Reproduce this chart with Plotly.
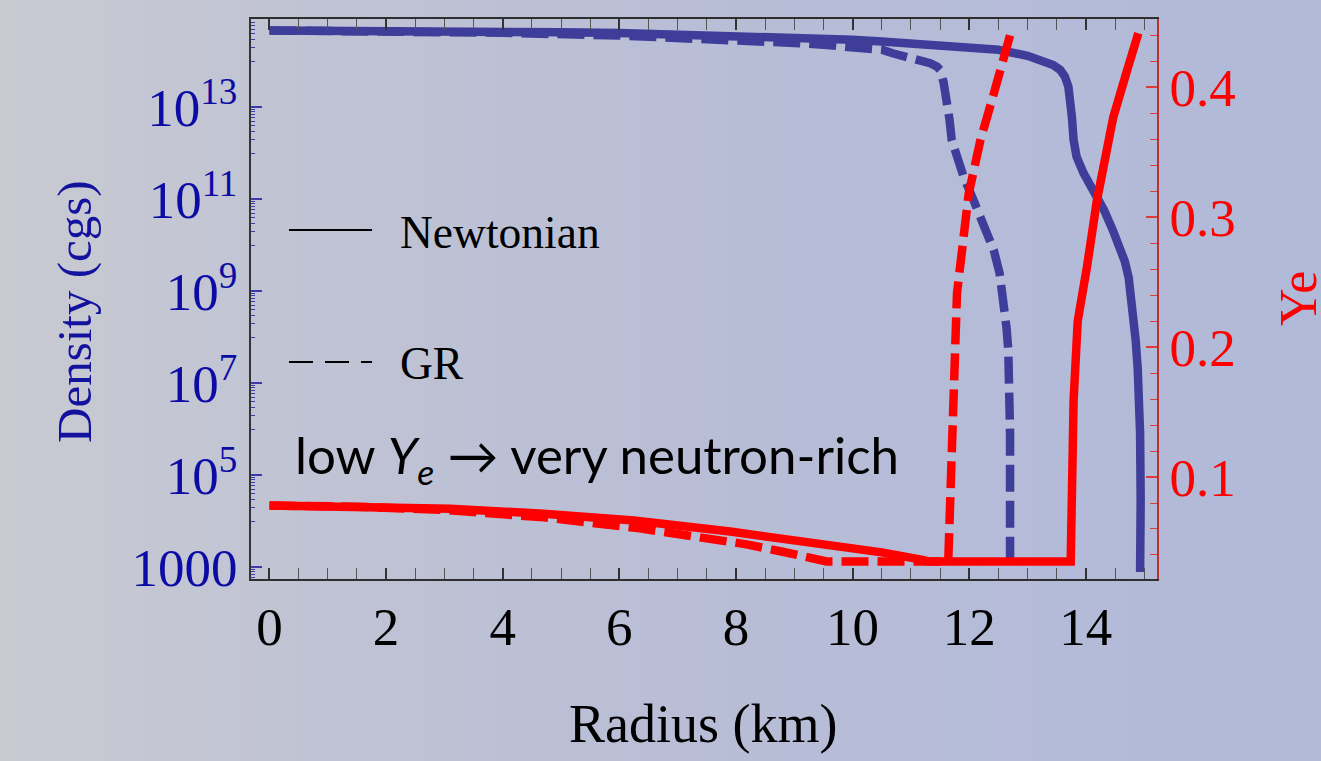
import plotly.graph_objects as go

# ---------------------------------------------------------------------------
# Profiles of a neutron star: density (left axis, log) and Ye (right axis)
# ---------------------------------------------------------------------------
radius_rho_newt = [0, 1, 2, 3, 4, 5, 6, 7, 8, 9, 10, 10.5, 11, 11.5, 12, 12.5,
                   13.0, 13.2, 13.44, 13.56, 13.64, 13.70, 13.74, 13.76, 13.79,
                   13.84, 13.96, 14.125, 14.31, 14.465, 14.585, 14.67, 14.734,
                   14.777, 14.82, 14.854, 14.889, 14.914, 14.93, 14.94, 14.93]
rho_newt = [4.68e14, 4.68e14, 4.57e14, 4.47e14, 4.37e14, 4.27e14, 4.12e14,
            3.89e14, 3.63e14, 3.31e14, 2.95e14, 2.69e14, 2.45e14, 2.24e14,
            2.0e14, 1.78e14, 1.32e14, 1.07e14, 8.3e13, 6.5e13, 4.7e13, 2.8e13,
            1.45e13, 6.3e12, 1.95e12, 8.5e11, 3.7e11, 1.6e11, 5.9e10, 2.1e10,
            8.7e9, 4.4e9, 2.0e9, 8.3e8, 2.6e8, 8.7e7, 2.1e7, 4.3e6, 8.3e5,
            2.9e4, 7.9e2]

radius_rho_gr = [0, 2, 4, 6, 7, 8, 9, 9.5, 10, 10.5, 10.7, 11.1, 11.33, 11.45,
                 11.5, 11.56, 11.62, 11.66, 11.70, 11.79, 11.9, 12.07, 12.25,
                 12.42, 12.52, 12.59, 12.64, 12.67, 12.69, 12.70, 12.70]
rho_gr = [4.68e14, 4.47e14, 4.17e14, 3.63e14, 3.31e14, 2.88e14, 2.51e14,
          2.29e14, 2.04e14, 1.78e14, 1.48e14, 1.15e14, 9.1e13, 7.6e13, 6.5e13,
          3.5e13, 1.45e13, 5.6e12, 1.95e12, 7.2e11, 3.2e11, 9.8e10, 2.8e10,
          7.9e9, 2.5e9, 6.5e8, 1.6e8, 5.2e7, 6.3e6, 8.1e5, 1.26e3]

radius_ye_newt = [0, 1.5, 3.1, 4.7, 6.25, 7.9, 9.6, 10.5, 11.2, 11.3, 13.74,
                  13.75, 13.76, 13.79, 13.86, 13.93, 14.02, 14.19, 14.33, 14.47,
                  14.7, 14.9]
ye_newt = [0.078, 0.0775, 0.0756, 0.0718, 0.0665, 0.058, 0.0477, 0.042, 0.0362,
           0.035, 0.035, 0.06, 0.108, 0.159, 0.22, 0.236, 0.262, 0.313, 0.347,
           0.377, 0.412, 0.4416]

radius_ye_gr = [0, 1.5, 3, 4.7, 6.35, 7.2, 8.18, 8.8, 9.33, 9.55, 11.64, 11.67,
                11.70, 11.72, 11.76, 11.79, 11.99, 12.19, 12.42, 12.70]
ye_gr = [0.078, 0.0772, 0.0746, 0.069, 0.0605, 0.055, 0.0482, 0.0425, 0.0374,
         0.035, 0.035, 0.0824, 0.1337, 0.1593, 0.2032, 0.2414, 0.318, 0.359,
         0.395, 0.440]

radius_ticks = [0, 2, 4, 6, 8, 10, 12, 14]
density_ticks = [1e3, 1e5, 1e7, 1e9, 1e11, 1e13]
density_tick_text = ["1000", "10<sup>5</sup>", "10<sup>7</sup>", "10<sup>9</sup>",
                     "10<sup>11</sup>", "10<sup>13</sup>"]
ye_ticks = [0.1, 0.2, 0.3, 0.4]
ye_tick_text = ["0.1", "0.2", "0.3", "0.4"]

# minor log ticks: 1..9 x 10^(n-1) below every labelled decade
density_minor = [k * 10.0 ** (n - 1) for n in range(3, 17, 2) for k in range(1, 10)]

# ---------------------------------------------------------------------------
W, H = 1321, 761
L, R, T, B = 251, 164, 19, 182
PW, PH = W - L - R, H - T - B


def px(xp):
    return (xp - L) / PW


def py(yp):
    return (H - B - yp) / PH


BLUE = "#3e3d9a"
RED = "#ff0000"
SERIF = "Liberation Serif"

fig = go.Figure()
fig.add_trace(go.Scatter(x=radius_rho_newt, y=rho_newt, mode="lines",
                         line=dict(color=BLUE, width=8.5), yaxis="y",
                         hoverinfo="skip", showlegend=False))
fig.add_trace(go.Scatter(x=radius_rho_gr, y=rho_gr, mode="lines",
                         line=dict(color=BLUE, width=8.5, dash="27px,9px"),
                         yaxis="y", hoverinfo="skip", showlegend=False))
fig.add_trace(go.Scatter(x=radius_ye_newt, y=ye_newt, mode="lines",
                         line=dict(color=RED, width=8.5), yaxis="y2",
                         hoverinfo="skip", showlegend=False))
fig.add_trace(go.Scatter(x=radius_ye_gr, y=ye_gr, mode="lines",
                         line=dict(color=RED, width=8.5, dash="27px,9px"),
                         yaxis="y2", hoverinfo="skip", showlegend=False))

# soft horizontal background gradient
stops = [(0.0, (201, 202, 210)), (0.2, (193, 196, 211)), (0.5, (185, 190, 214)),
         (1.0, (177, 185, 217))]


def bg_color(t):
    for (t0, c0), (t1, c1) in zip(stops[:-1], stops[1:]):
        if t <= t1:
            f = (t - t0) / (t1 - t0)
            return "rgb(%d,%d,%d)" % tuple(round(a + (b - a) * f) for a, b in zip(c0, c1))
    return "rgb(%d,%d,%d)" % stops[-1][1]


shapes = []
N = 120
for i in range(N):
    x0 = W * i / N
    x1 = W * (i + 1) / N + 1
    shapes.append(dict(type="rect", xref="paper", yref="paper", layer="below",
                       x0=px(x0), x1=px(x1), y0=py(H + 2), y1=py(-2),
                       line=dict(width=0), fillcolor=bg_color((i + 0.5) / N)))

# legend samples
shapes.append(dict(type="line", xref="paper", yref="paper", x0=px(289), x1=px(372),
                   y0=py(230), y1=py(230), line=dict(color="black", width=2)))
shapes.append(dict(type="line", xref="paper", yref="paper", x0=px(289), x1=px(372),
                   y0=py(362), y1=py(362),
                   line=dict(color="black", width=2, dash="24px,12px")))

annotations = [
    dict(text="Density (cgs)", xref="paper", yref="paper", x=px(75), y=py(312),
         textangle=-90, showarrow=False, xanchor="center", yanchor="middle",
         font=dict(family=SERIF, size=49, color="#12129e")),
    dict(text="Radius (km)", xref="paper", yref="paper", x=px(703), y=py(724),
         showarrow=False, xanchor="center", yanchor="middle",
         font=dict(family=SERIF, size=54, color="black")),
    dict(text="Ye", xref="paper", yref="paper", x=px(1298), y=py(299),
         textangle=-90, showarrow=False, xanchor="center", yanchor="middle",
         font=dict(family=SERIF, size=52, color=RED)),
    dict(text="Newtonian", xref="paper", yref="paper", x=px(398), y=py(232),
         showarrow=False, xanchor="left", yanchor="middle",
         font=dict(family=SERIF, size=45.5, color="black")),
    dict(text="GR", xref="paper", yref="paper", x=px(398), y=py(363),
         showarrow=False, xanchor="left", yanchor="middle",
         font=dict(family=SERIF, size=45.5, color="black")),
    dict(text="low <i>Y</i><sub><i>e</i></sub> \u2192 very neutron-rich",
         xref="paper", yref="paper", x=px(293), y=py(458),
         showarrow=False, xanchor="left", yanchor="middle",
         font=dict(family="Lato", size=51, color="black")),
]

fig.update_layout(
    width=W, height=H, autosize=False,
    margin=dict(l=L, r=R, t=T, b=B, pad=0),
    paper_bgcolor="rgb(190,194,212)",
    plot_bgcolor="rgba(0,0,0,0)",
    shapes=shapes, annotations=annotations, showlegend=False,
    xaxis=dict(range=[-0.317, 15.22], tickmode="array", tickvals=radius_ticks,
               ticks="inside", ticklen=11, tickwidth=1.5, tickcolor="#333333",
               showline=True, linecolor="#2e2e2e", linewidth=2, mirror="allticks",
               minor=dict(tickmode="linear", tick0=0, dtick=0.5, ticks="inside",
                          ticklen=6.5, tickwidth=1.3, tickcolor="#555555"),
               tickfont=dict(family=SERIF, size=53, color="black"),
               ticklabelstandoff=0, showgrid=False, zeroline=False),
    yaxis=dict(type="log", range=[2.746, 14.92], tickmode="array",
               tickvals=density_ticks, ticktext=density_tick_text,
               ticks="inside", ticklen=11, tickwidth=1.5, tickcolor="#3b3bb0",
               showline=True, linecolor="#333333", linewidth=2,
               minor=dict(tickmode="array", tickvals=density_minor, ticks="inside",
                          ticklen=4, tickwidth=1.2, tickcolor="#3b3bb0"),
               tickfont=dict(family=SERIF, size=53, color="#0c0ca4"),
               ticklabelstandoff=1, showgrid=False, zeroline=False),
    yaxis2=dict(overlaying="y", side="right", range=[0.0215, 0.4526],
                tickmode="array", tickvals=ye_ticks, ticktext=ye_tick_text,
                ticks="inside", ticklen=11, tickwidth=1.5, tickcolor="#e23a3a",
                showline=True, linecolor="#b83232", linewidth=2,
                minor=dict(tickmode="linear", tick0=0, dtick=0.02, ticks="inside",
                           ticklen=7, tickwidth=1.3, tickcolor="#e23a3a"),
                tickfont=dict(family=SERIF, size=53, color=RED),
                ticklabelstandoff=0, showgrid=False, zeroline=False),
)

fig.write_html("out.html")
